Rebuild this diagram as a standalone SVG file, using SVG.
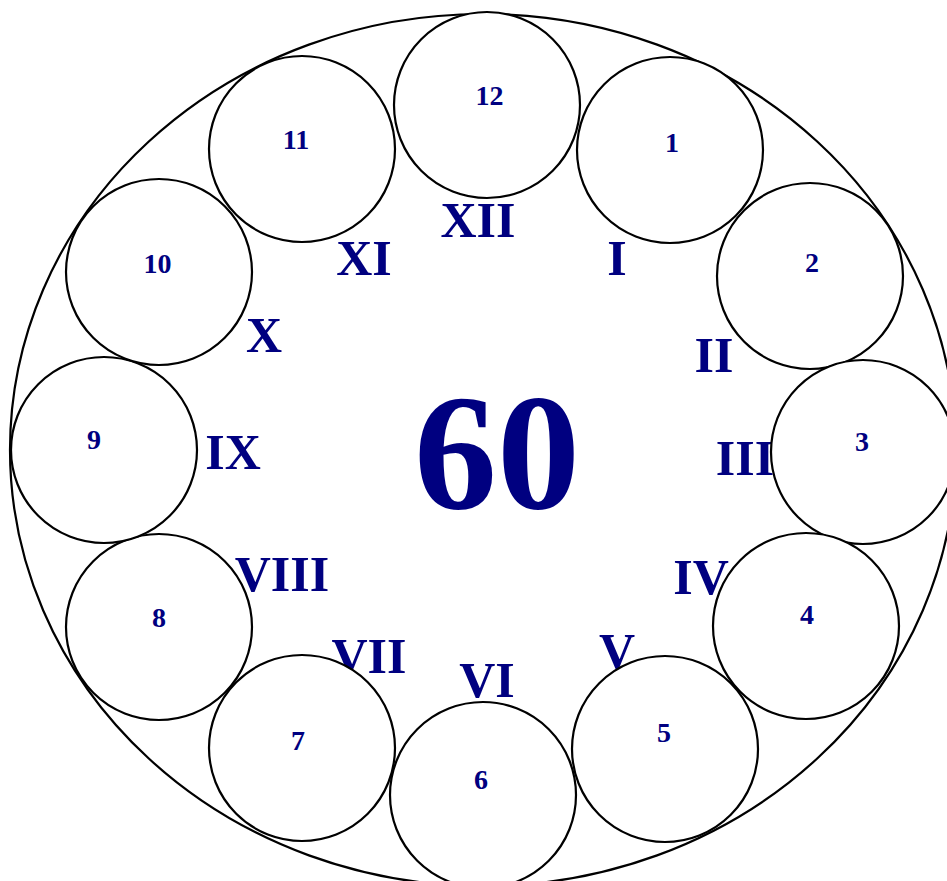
<svg xmlns="http://www.w3.org/2000/svg" width="947" height="881" viewBox="0 0 947 881">
<style>
.ring{fill:#fff;stroke:#000;stroke-width:2.2}
.c{fill:#fff;stroke:#000;stroke-width:2.2}
.t{font-family:"Liberation Serif","Times New Roman",serif;font-weight:bold;fill:#000080;text-anchor:middle}
.n{font-size:28px}
.r{font-size:50px}
.big{font-size:166px}
</style>
<rect width="947" height="881" fill="#fff"/>
<g id="face">
<ellipse class="ring" cx="483" cy="450" rx="473" ry="436"/>
</g>
<g id="center"><text class="t big" x="497" y="508">60</text></g>
<g id="roman">
<text class="t r" x="478" y="237">XII</text>
<text class="t r" x="617" y="275">I</text>
<text class="t r" x="714" y="372">II</text>
<text class="t r" x="745" y="475">III</text>
<text class="t r" x="701" y="594">IV</text>
<text class="t r" x="617" y="668">V</text>
<text class="t r" x="487" y="697">VI</text>
<text class="t r" x="369" y="673">VII</text>
<text class="t r" x="282" y="591">VIII</text>
<text class="t r" x="233" y="469">IX</text>
<text class="t r" x="264" y="352">X</text>
<text class="t r" x="364" y="275">XI</text>
</g>
<g id="n12"><circle class="c" cx="487" cy="105" r="93"/><text class="t n" x="489.5" y="105">12</text></g>
<g id="n1"><circle class="c" cx="670" cy="150" r="93"/><text class="t n" x="672" y="152">1</text></g>
<g id="n2"><circle class="c" cx="810" cy="276" r="93"/><text class="t n" x="812" y="272">2</text></g>
<g id="n3"><circle class="c" cx="863" cy="452" r="92"/><text class="t n" x="862" y="451">3</text></g>
<g id="n4"><circle class="c" cx="806" cy="626" r="93"/><text class="t n" x="807" y="624">4</text></g>
<g id="n5"><circle class="c" cx="665" cy="749" r="93"/><text class="t n" x="664" y="742">5</text></g>
<g id="n6"><circle class="c" cx="483" cy="795" r="93"/><text class="t n" x="481" y="789">6</text></g>
<g id="n7"><circle class="c" cx="302" cy="748" r="93"/><text class="t n" x="298" y="750">7</text></g>
<g id="n8"><circle class="c" cx="159" cy="627" r="93"/><text class="t n" x="159" y="627">8</text></g>
<g id="n9"><circle class="c" cx="104" cy="450" r="93"/><text class="t n" x="94" y="449">9</text></g>
<g id="n10"><circle class="c" cx="159" cy="272" r="93"/><text class="t n" x="157.5" y="273">10</text></g>
<g id="n11"><circle class="c" cx="302" cy="149" r="93"/><text class="t n" x="296" y="149">11</text></g>
<g id="connectors"></g>
</svg>
